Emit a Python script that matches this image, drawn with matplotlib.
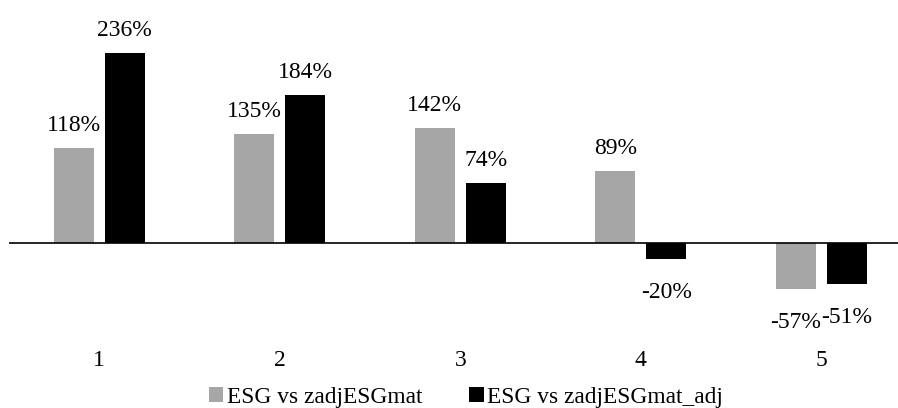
import matplotlib
matplotlib.use("Agg")
import matplotlib.pyplot as plt
from matplotlib.patches import Patch
import numpy as np

categories = ["1", "2", "3", "4", "5"]
series_names = ["ESG vs zadjESGmat", "ESG vs zadjESGmat_adj"]
esg_zadj = [118, 135, 142, 89, -57]
esg_zadj_adj = [236, 184, 74, -20, -51]
colors = ["#a6a6a6", "#000000"]

FS = 17
plt.rcParams["font.family"] = ["Liberation Serif", "DejaVu Serif"]
plt.rcParams["font.size"] = FS

W, H = 898, 408
fig = plt.figure(figsize=(W / 100, H / 100), dpi=100)
# axes placed in pixel coordinates
left, right, top, bottom = 9, 898, 10, 330
ax = fig.add_axes([left / W, 1 - bottom / H, (right - left) / W, (bottom - top) / H])

x = np.arange(len(categories))
bw = 0.222
gap = 0.061
off = (bw + gap) / 2
series = [esg_zadj, esg_zadj_adj]
for i, (vals, col) in enumerate(zip(series, colors)):
    pos = x + (-off if i == 0 else off)
    ax.bar(pos, vals, width=bw, color=col, zorder=2)
    for px, v in zip(pos, vals):
        dy = 12.2 if v >= 0 else -27.8
        ax.annotate(f"{v}%", (px, v), xytext=(0, dy), textcoords="offset points",
                    ha="center", va="baseline", fontsize=FS)

ax.axhline(0, color="black", lw=1.2, zorder=3)

px_per_cat = 180.5
ax.set_xlim(-0.5, -0.5 + (right - left) / px_per_cat)
ppu = 0.807
ax.set_ylim(-(bottom - 243) / ppu, (243 - top) / ppu)
ax.axis("off")

for xi, c in zip(x, categories):
    fig.text((left + (xi + 0.5) * px_per_cat) / W, 1 - 366 / H, c,
             ha="center", va="baseline", fontsize=FS)

handles = [Patch(facecolor=c, edgecolor="none") for c in colors]
fig.legend(handles, series_names, loc="lower center", bbox_to_anchor=(466 / W, 0.5 / H),
           ncol=2, frameon=False, handlelength=0.63, handleheight=0.63,
           handletextpad=0.15, columnspacing=2.0, fontsize=16.8, borderpad=0,
           borderaxespad=0)

fig.savefig("out.png", dpi=100)
